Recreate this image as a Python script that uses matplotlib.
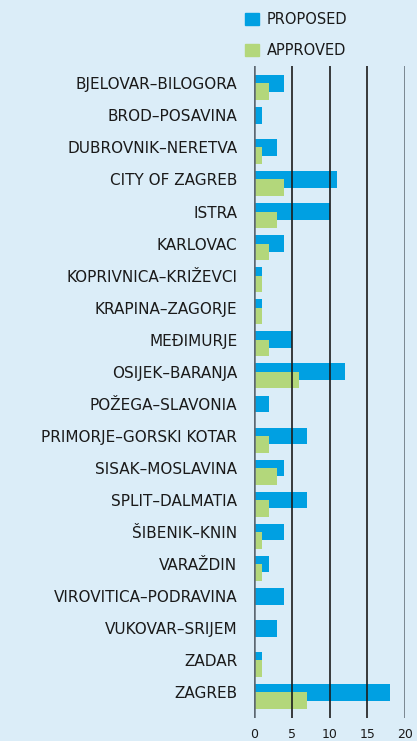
import matplotlib
matplotlib.use("Agg")
import matplotlib.pyplot as plt
from matplotlib.patches import Patch

counties = [
    "BJELOVAR–BILOGORA", "BROD–POSAVINA", "DUBROVNIK–NERETVA", "CITY OF ZAGREB",
    "ISTRA", "KARLOVAC", "KOPRIVNICA–KRIŽEVCI", "KRAPINA–ZAGORJE", "MEĐIMURJE",
    "OSIJEK–BARANJA", "POŽEGA–SLAVONIA", "PRIMORJE–GORSKI KOTAR", "SISAK–MOSLAVINA",
    "SPLIT–DALMATIA", "ŠIBENIK–KNIN", "VARAŽDIN", "VIROVITICA–PODRAVINA",
    "VUKOVAR–SRIJEM", "ZADAR", "ZAGREB",
]
proposed = [4, 1, 3, 11, 10, 4, 1, 1, 5, 12, 2, 7, 4, 7, 4, 2, 4, 3, 1, 18]
approved = [2, 0, 1, 4, 3, 2, 1, 1, 2, 6, 0, 2, 3, 2, 1, 1, 0, 0, 1, 7]
xticks = [0, 5, 10, 15, 20]

BG = "#dbedf8"
BLUE = "#00a0e2"
GREEN = "#b3d77b"
TXT = "#1a1a1a"

plt.rcParams["font.family"] = ["DejaVu Sans"]

fig = plt.figure(figsize=(4.17, 7.41), dpi=100, facecolor=BG)
ax = fig.add_axes([254 / 417, 1 - 718 / 741, 151 / 417, (718 - 66) / 741])
ax.set_facecolor(BG)

y = list(range(len(counties)))
h = 0.52
ax.barh(y, proposed, height=h, color=BLUE, zorder=2, label="PROPOSED")
ax.barh([v + 0.26 for v in y], approved, height=h, color=GREEN, zorder=3, label="APPROVED")

for t in xticks:
    edge = t in (xticks[0], xticks[-1])
    ax.axvline(t, color="#5d6872" if edge else "#1c1c1c", lw=1.8 if edge else 1.2, zorder=4)

ax.set_xlim(0, 20)
ax.set_ylim(19.8, -0.54)
ax.set_xticks(xticks)
ax.set_xticklabels([str(t) for t in xticks], fontsize=9, color=TXT)
ax.set_yticks(y)
ax.set_yticklabels(counties, fontsize=11, color=TXT)
ax.tick_params(axis="x", length=0, pad=7)
ax.tick_params(axis="y", length=0, pad=12)
for s in ax.spines.values():
    s.set_visible(False)

handles = [Patch(color=BLUE, label="PROPOSED"), Patch(color=GREEN, label="APPROVED")]
leg = fig.legend(handles=handles, loc="upper left", bbox_to_anchor=(232 / 417, 1 + 1 / 741),
                 frameon=False, fontsize=10.5, handlelength=0.95, handleheight=0.95,
                 handletextpad=0.55, labelspacing=1.1, labelcolor=TXT)

fig.savefig("out.png", dpi=100, facecolor=BG)
